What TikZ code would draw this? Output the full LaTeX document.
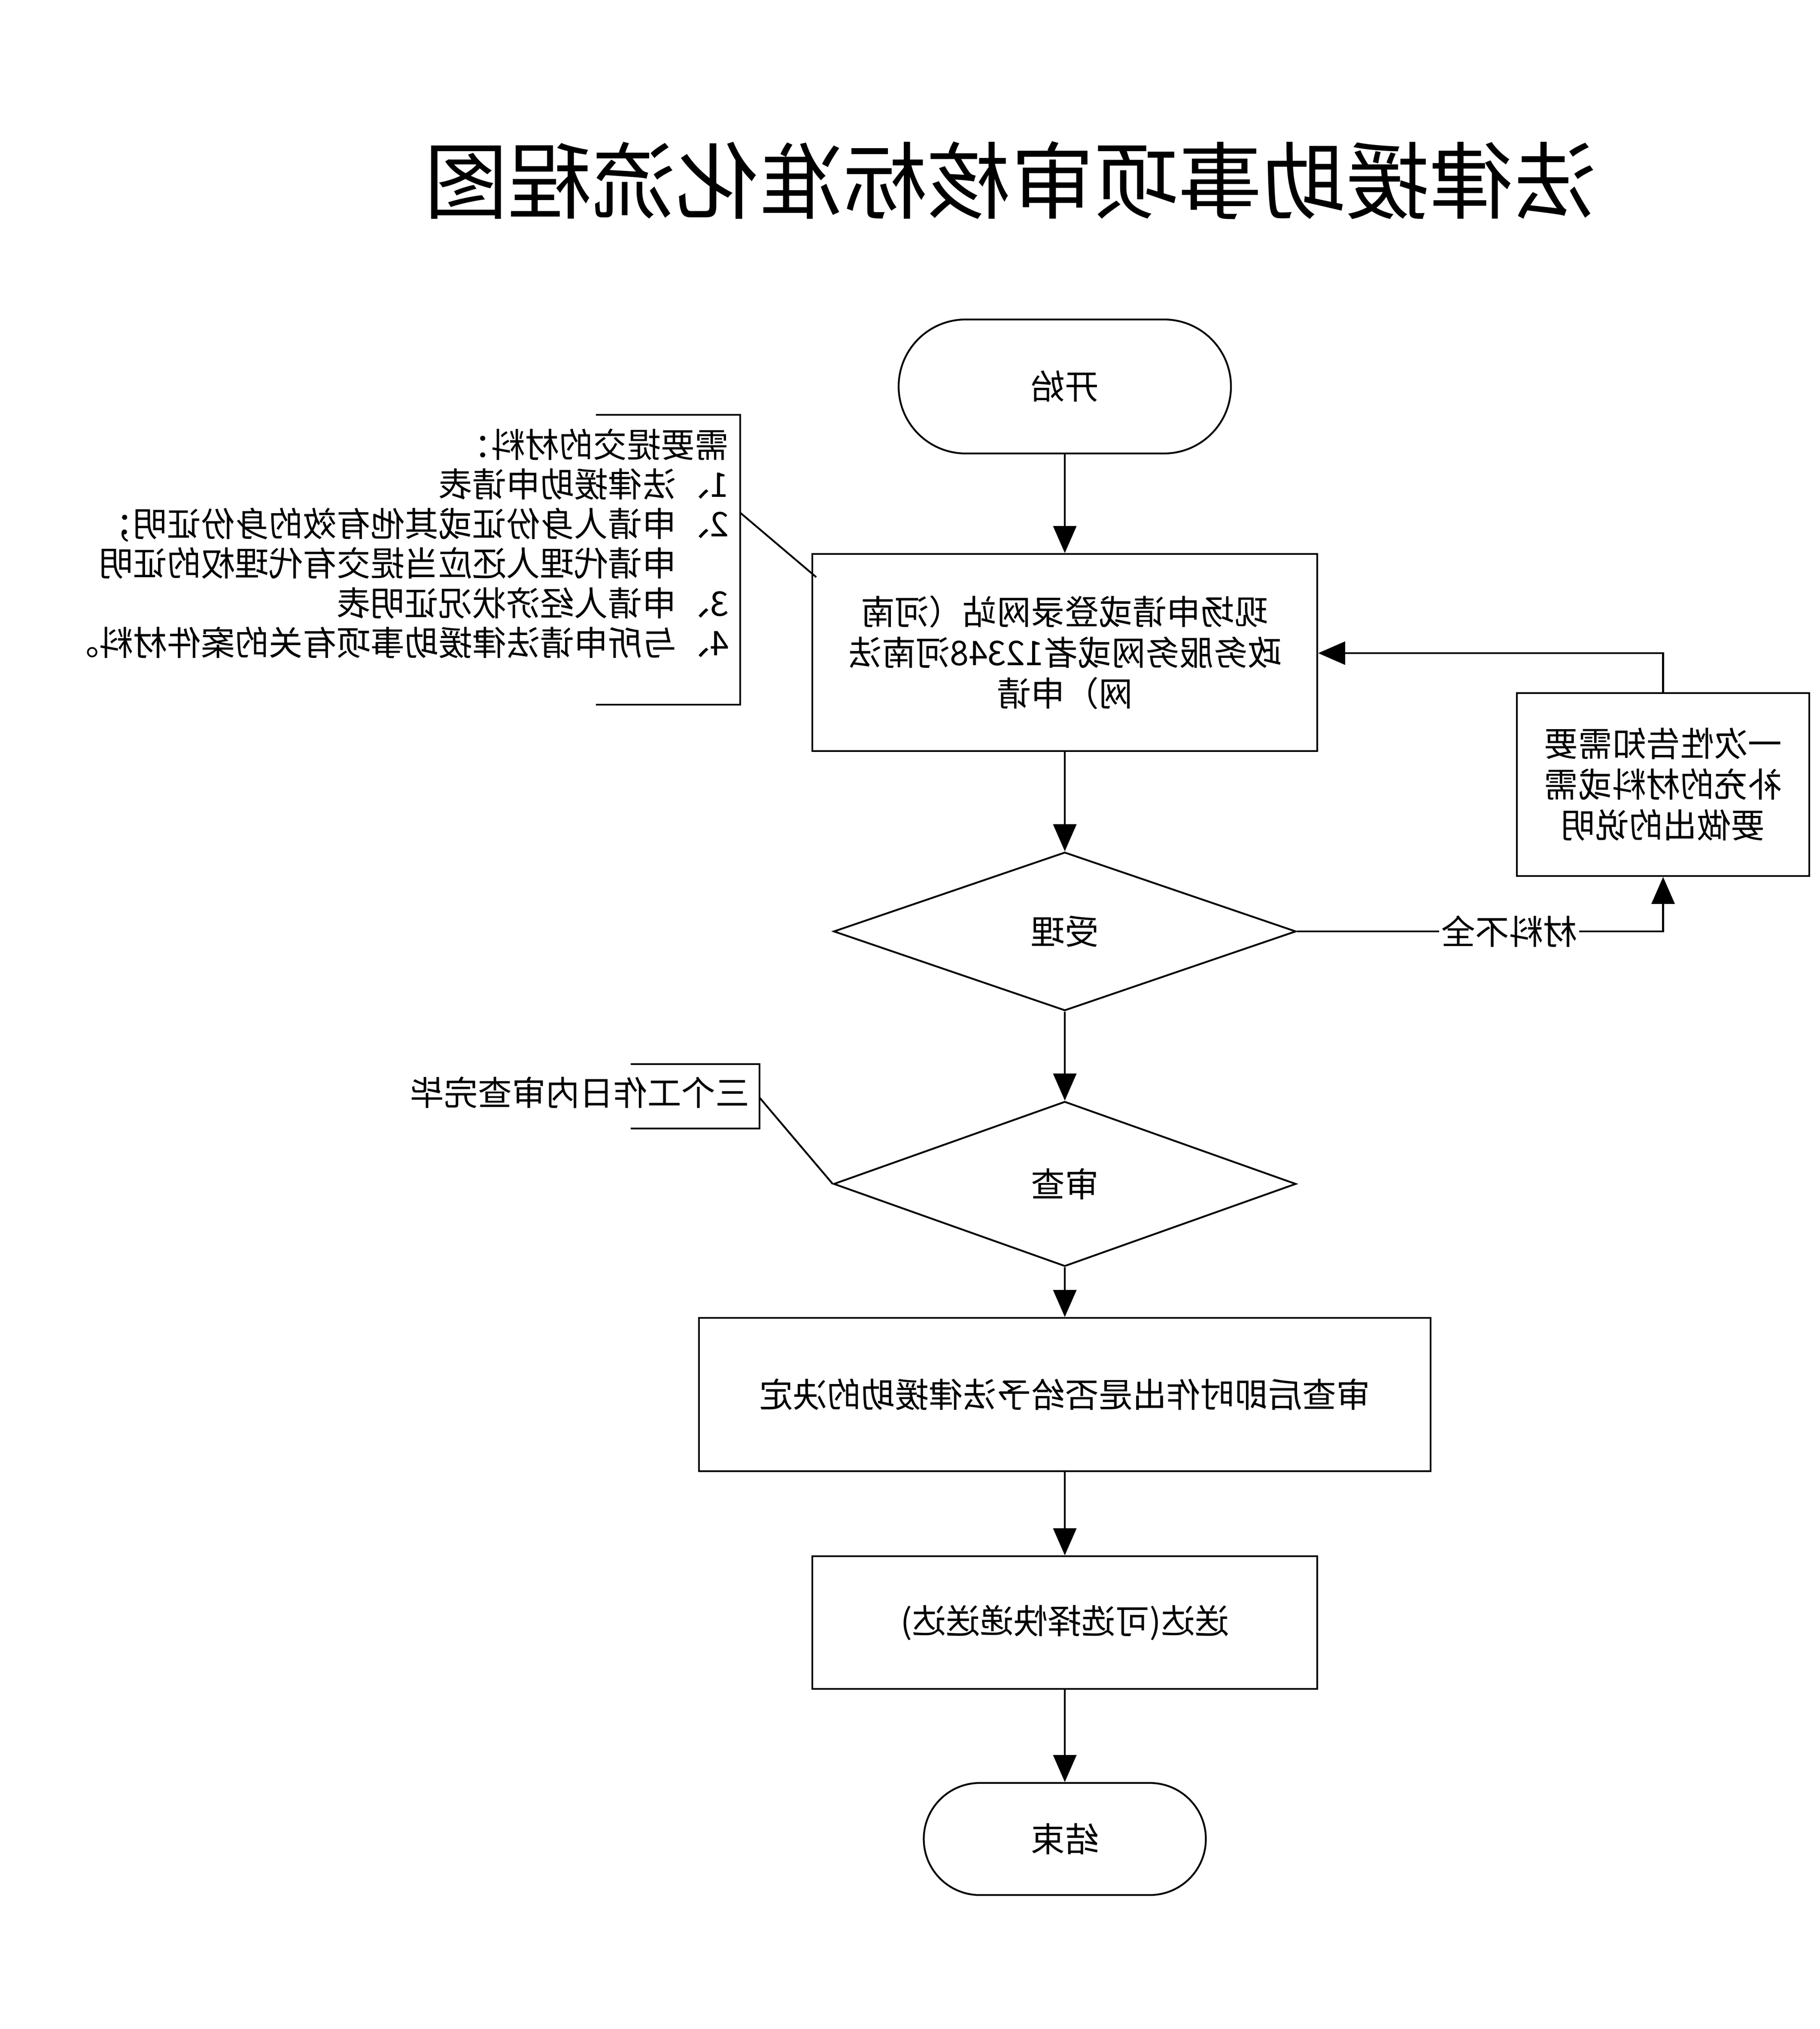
\documentclass[tikz,border=0pt]{standalone}
\usepackage{fontspec}
\newfontfamily\cjk{Noto Sans CJK SC}
\usetikzlibrary{shapes.geometric,arrows.meta}
\begin{document}
\begin{tikzpicture}[x=0.02cm,y=-0.02cm,xscale=-1,
  every node/.style={transform shape,font=\cjk\fontsize{15}{18}\selectfont},
  line width=0.8pt,
  box/.style={draw,rectangle,align=center,inner sep=2pt},
  dia/.style={draw,diamond,inner sep=1pt},
  arr/.style={-{Triangle[length=0.42cm,width=0.36cm]}}]
\useasboundingbox (0,0) rectangle (1412.7,1575);
\node (title) at (628,140) {\fontsize{37}{40}\selectfont 法律援助事项审核标准化流程图};
\node[box,minimum width=258*0.02cm,minimum height=104*0.02cm,rounded corners=1.04cm] (start) at (586,300) {开始};
\node[box,minimum width=392*0.02cm,minimum height=153*0.02cm,text width=7.2cm] (apply) at (586,506.5) {现场申请或登录网站（河南\\政务服务网或者12348河南法\\网）申请};
\node[dia,minimum width=359*0.02cm,minimum height=123*0.02cm] (accept) at (586,723) {受理};
\node[dia,minimum width=359*0.02cm,minimum height=128*0.02cm] (review) at (586,919) {审查};
\node[box,minimum width=568*0.02cm,minimum height=119*0.02cm] (decide) at (586,1082.5) {审查后即时作出是否给予法律援助的决定};
\node[box,minimum width=392*0.02cm,minimum height=103*0.02cm] (deliver) at (586,1259.5) {送达(可选择快递送达)};
\node[box,minimum width=219*0.02cm,minimum height=87*0.02cm,rounded corners=0.87cm] (end) at (586,1427.5) {结束};
\node[box,minimum width=227*0.02cm,minimum height=142*0.02cm] (notify) at (121.5,609) {一次性告知需要\\补充的材料或需\\要做出的说明};
\draw[arr] (start) -- (apply);
\draw[arr] (apply) -- (accept);
\draw[arr] (accept) -- (review);
\draw[arr] (review) -- (decide);
\draw[arr] (decide) -- (deliver);
\draw[arr] (deliver) -- (end);
\coordinate (c1) at (121.5,723);
\coordinate (c2) at (121.5,507);
\draw[arr] (accept.west) -- (c1) -- (notify.south);
\node[fill=white,inner sep=1pt] (lack) at (241,723) {材料不全};
\draw[arr] (notify.north) -- (c2) -- (apply.west |- c2);
% annotation 1
\coordinate (b1t) at (950,322); \coordinate (b1a) at (838,322);
\coordinate (b1b) at (838,547); \coordinate (b1c) at (950,547);
\coordinate (b1m) at (838,398); \coordinate (b1e) at (779,448);
\draw (b1t) -- (b1a) -- (b1b) -- (b1c);
\draw (b1m) -- (b1e);
\node[anchor=north west,align=left,inner sep=0pt,font=\cjk\fontsize{15}{17.5}\selectfont] (mat) at (846,332) {需要提交的材料：\\1、法律援助申请表\\2、申请人身份证或其他有效的身份证明；\\\phantom{2、}申请代理人还应当提交有代理权的证明\\3、申请人经济状况证明表\\4、与所申请法律援助事项有关的案件材料。};
% annotation 2
\coordinate (b2t) at (923,826); \coordinate (b2a) at (823,826);
\coordinate (b2b) at (823,876); \coordinate (b2c) at (923,876);
\coordinate (b2m) at (823,852);
\draw (b2t) -- (b2a) -- (b2b) -- (b2c);
\draw (b2m) -- (review.east);
\node[anchor=west,inner sep=0pt] (days) at (830,848) {三个工作日内审查完毕};
\end{tikzpicture}
\end{document}
